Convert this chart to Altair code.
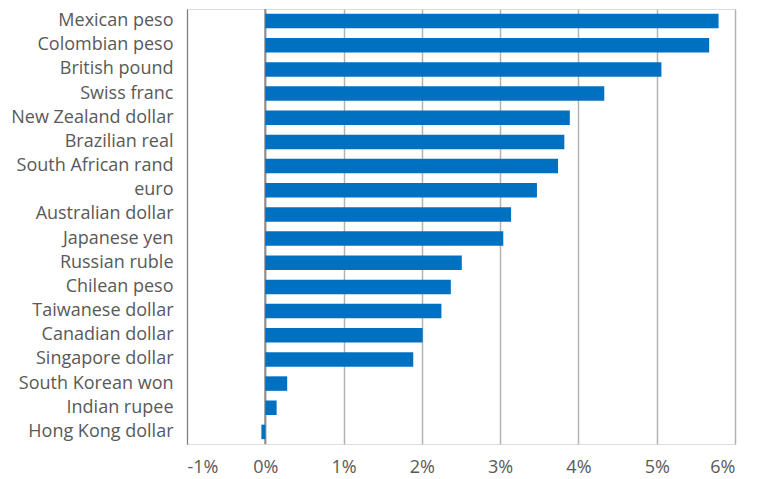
import altair as alt
import pandas as pd

currencies = ["Mexican peso", "Colombian peso", "British pound", "Swiss franc",
              "New Zealand dollar", "Brazilian real", "South African rand", "euro",
              "Australian dollar", "Japanese yen", "Russian ruble", "Chilean peso",
              "Taiwanese dollar", "Canadian dollar", "Singapore dollar",
              "South Korean won", "Indian rupee", "Hong Kong dollar"]
values = [5.79, 5.67, 5.06, 4.33, 3.89, 3.82, 3.74, 3.47, 3.14, 3.04, 2.51, 2.37,
          2.25, 2.01, 1.89, 0.28, 0.145, -0.05]
ticks = [-1, 0, 1, 2, 3, 4, 5, 6]

df = pd.DataFrame({"currency": currencies, "value": values})
FONT = "Open Sans"

x = alt.X("value:Q", scale=alt.Scale(domain=[-1, 6], nice=False, zero=False),
          axis=alt.Axis(values=ticks, labelExpr="datum.value + '%'", title=None,
                        domain=False, ticks=False, grid=True, gridColor="#B3B3B3",
                        gridWidth=1.5, labelFontSize=18, labelColor="#595959",
                        labelFont=FONT, labelPadding=14))
y = alt.Y("currency:N", sort=currencies,
          scale=alt.Scale(paddingInner=0.4, paddingOuter=0.2),
          axis=alt.Axis(title=None, ticks=False, domain=True, domainColor="#808080",
                        domainWidth=1, labelFontSize=18, labelColor="#595959",
                        labelFont=FONT, labelPadding=14, labelLimit=300))

bars = alt.Chart(df).mark_bar(color="#0070C0").encode(x=x, y=y)

zero = alt.Chart(pd.DataFrame({"z": [0]})).mark_rule(color="#8C8C8C", strokeWidth=2).encode(
    x=alt.X("z:Q", scale=alt.Scale(domain=[-1, 6], nice=False, zero=False))
)

chart = alt.layer(zero, bars).properties(
    width=548, height=435,
    autosize=alt.AutoSizeParams(type="none"),
    padding={"left": 179, "top": 1, "right": 10, "bottom": 35},
).configure_view(stroke=None).configure(background="white")

chart.save("out.html", embed_options={"renderer": "svg", "actions": False})
